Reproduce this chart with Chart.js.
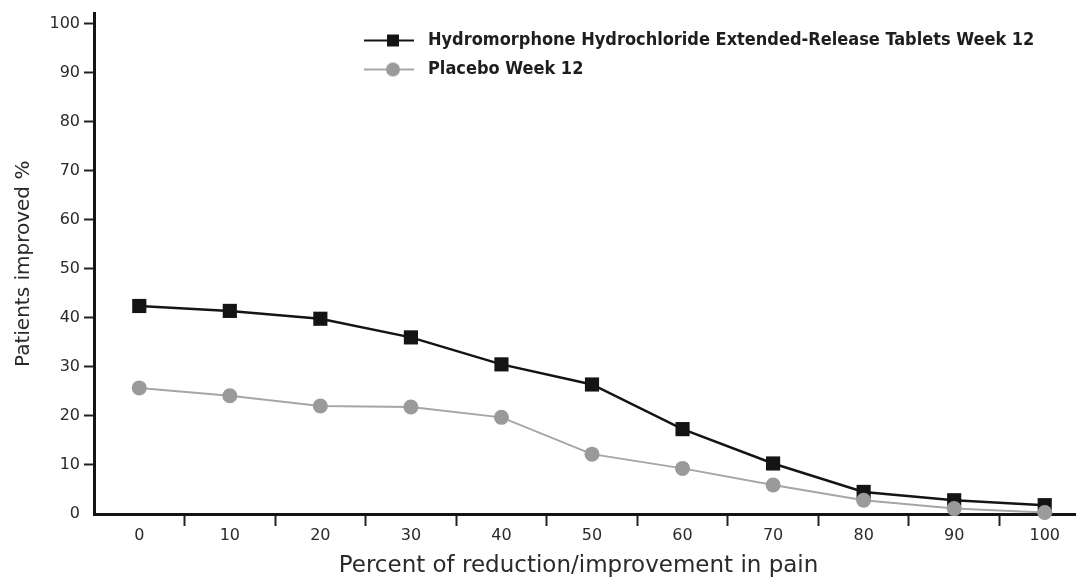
<!DOCTYPE html>
<html>
<head>
<meta charset="utf-8">
<script src="https://cdn.jsdelivr.net/npm/chart.js"></script>
<style>
  html, body { margin: 0; padding: 0; background: #ffffff; overflow: hidden; }
  #wrap { width: 1157px; height: 580px; }
  canvas { display: block; }
</style>
</head>
<body>
<div id="wrap"><canvas id="c" width="1157" height="580"></canvas></div>
<script>
// ---- data ----
const categories = ['0', '10', '20', '30', '40', '50', '60', '70', '80', '90', '100'];
const hydromorphoneWeek12 = [42.4, 41.4, 39.8, 36.0, 30.5, 26.4, 17.3, 10.3, 4.5, 2.8, 1.8];
const placeboWeek12 = [25.7, 24.1, 22.0, 21.8, 19.7, 12.2, 9.3, 5.9, 2.8, 1.1, 0.3];
const yTickValues = [0, 10, 20, 30, 40, 50, 60, 70, 80, 90, 100];
const seriesNames = ['Hydromorphone Hydrochloride Extended-Release Tablets Week 12', 'Placebo Week 12'];
const xTitle = 'Percent of reduction/improvement in pain';
const yTitle = 'Patients improved %';

const FONT = "'DejaVu Sans', 'Liberation Sans', Arial, sans-serif";
const LEGEND_FONT = "'DejaVu Sans Condensed', 'Liberation Sans Narrow', 'DejaVu Sans', sans-serif";
const BLACK = '#141414';
const GREY_LINE = '#a6a6a6';
const GREY_PT = '#9a9a9a';
const TEXT = '#2a2a2a';

// legend icons: line with marker
function makeIcon(kind) {
  const cv = document.createElement('canvas');
  cv.width = 50; cv.height = 18;
  const g = cv.getContext('2d');
  g.lineWidth = 2;
  g.strokeStyle = kind === 'rect' ? BLACK : GREY_LINE;
  g.beginPath(); g.moveTo(0, 9); g.lineTo(50, 9); g.stroke();
  if (kind === 'rect') {
    g.fillStyle = BLACK; g.fillRect(23, 3, 12, 12);
  } else {
    g.fillStyle = GREY_PT; g.beginPath(); g.arc(29, 9, 7, 0, Math.PI * 2); g.fill();
  }
  return cv;
}
const legendIcons = [makeIcon('rect'), makeIcon('circle')];

const legendPlace = {
  id: 'legendPlace',
  afterLayout(chart) {
    const l = chart.legend;
    if (!l) return;
    const w = l.width;
    l.left = 348; l.right = 348 + w;
    l.top = 20.5; l.bottom = 20.5 + 200;
  }
};

new Chart(document.getElementById('c'), {
  type: 'line',
  data: {
    labels: categories,
    datasets: [
      {
        label: seriesNames[0],
        data: hydromorphoneWeek12,
        order: 2,
        borderColor: BLACK,
        borderWidth: 2.5,
        backgroundColor: BLACK,
        pointStyle: 'rect',
        pointRadius: 10,
        pointBorderWidth: 0,
        pointBackgroundColor: BLACK,
        tension: 0,
        clip: false
      },
      {
        label: seriesNames[1],
        data: placeboWeek12,
        order: 1,
        borderColor: GREY_LINE,
        borderWidth: 2,
        backgroundColor: GREY_PT,
        pointStyle: 'circle',
        pointRadius: 7.5,
        pointBorderWidth: 0,
        pointBackgroundColor: GREY_PT,
        tension: 0,
        clip: false
      }
    ]
  },
  options: {
    responsive: false,
    animation: false,
    events: [],
    layout: { padding: { top: 13, left: 0, right: 0, bottom: 0 } },
    plugins: {
      tooltip: { enabled: false },
      title: {
        display: true,
        position: 'bottom',
        text: xTitle,
        color: TEXT,
        font: { family: FONT, size: 23, weight: 'normal', lineHeight: 1.2 },
        padding: 0
      },
      legend: {
        display: true,
        position: 'chartArea',
        align: 'start',
        labels: {
          usePointStyle: true,
          pointStyleWidth: 60,
          padding: 11,
          color: '#1e1e1e',
          font: { family: LEGEND_FONT, size: 18, weight: 'bold' },
          sort: (a, b) => a.datasetIndex - b.datasetIndex,
          generateLabels(chart) {
            const items = Chart.defaults.plugins.legend.labels.generateLabels(chart);
            items.forEach(it => { it.pointStyle = legendIcons[it.datasetIndex]; });
            return items;
          }
        }
      }
    },
    scales: {
      x: {
        type: 'category',
        offset: true,
        grid: {
          display: true,
          offset: true,
          drawOnChartArea: false,
          drawTicks: true,
          tickLength: 12,
          tickWidth: 2,
          tickColor: (c) => (c.index === 0 ? 'rgba(0,0,0,0)' : '#222222')
        },
        border: { display: true, color: BLACK, width: 3 },
        ticks: {
          color: TEXT,
          font: { family: FONT, size: 16 },
          padding: 0,
          maxRotation: 0,
          autoSkip: false
        },
        afterFit(s) { s.height = 38.4; }
      },
      y: {
        type: 'linear',
        min: 0,
        max: 102,
        afterBuildTicks(s) { s.ticks = yTickValues.map(v => ({ value: v })); },
        grid: {
          display: true,
          drawOnChartArea: false,
          drawTicks: true,
          tickLength: 10,
          tickWidth: 2,
          tickColor: (c) => (c.tick && c.tick.value === 0 ? 'rgba(0,0,0,0)' : '#222222')
        },
        border: { display: true, color: BLACK, width: 3 },
        ticks: {
          color: TEXT,
          font: { family: FONT, size: 16 },
          padding: 4
        },
        title: {
          display: true,
          text: yTitle,
          color: TEXT,
          font: { family: FONT, size: 20, weight: 'normal', lineHeight: 1.2 },
          padding: { top: 12, bottom: 0 }
        },
        afterFit(s) { s.width = 94; }
      },
      yRightSpacer: {
        type: 'linear',
        position: 'right',
        display: true,
        grid: { display: false },
        border: { display: false },
        ticks: { display: false },
        afterFit(s) { s.width = 67; }
      }
    }
  },
  plugins: [legendPlace]
});
</script>
</body>
</html>
